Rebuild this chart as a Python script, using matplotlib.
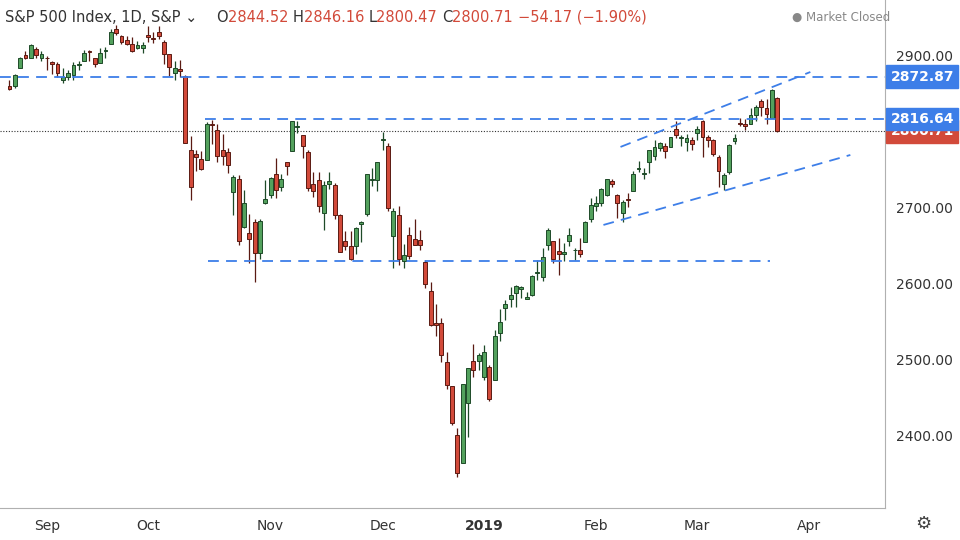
import matplotlib.pyplot as plt
import pandas as pd
import numpy as np

# S&P 500 daily, Aug 23 2018 .. Mar 22 2019
holidays = ['2018-09-03', '2018-11-22', '2018-12-05', '2018-12-25', '2019-01-01',
            '2019-01-21', '2019-02-18']
dates = pd.bdate_range('2018-08-23', '2019-03-22')
dates = dates[~dates.isin(pd.to_datetime(holidays))]

opens = [2860,2860,2884,2901,2898,2909,2898,
         2898,2892,2889,2868,2872,2875,2888,2894,2906,2897,2891,2906,2916,2936,2926,2921,2916,2911,2911,
         2927,2924,2932,2919,2902,2877,2883,2874,2776,2771,2764,2763,2810,2802,2776,2774,2721,2738,2675,2667,2682,2641,2706,
         2717,2745,2727,2760,2775,2807,2796,2774,2731,2737,2693,2731,2730,2691,2657,2650,2650,2679,2692,2737,2737,
         2790,2782,2663,2691,2630,2665,2659,2658,2629,2591,2549,2548,2497,2466,2401,2364,2443,2498,2499,
         2477,2491,2474,2535,2568,2580,2588,2593,2580,2585,2614,2609,2651,2657,2643,2639,2657,2644,2644,2655,2685,
         2702,2706,2717,2736,2717,2693,2712,2722,2751,2744,2760,2769,2779,2781,2780,2804,2792,2787,2789,
         2798,2814,2794,2790,2767,2731,2747,2788,2812,2810,2810,2822,2841,2832,2819,2844.52]
highs = [2868,2876,2899,2907,2916,2912,2906,
         2900,2894,2892,2884,2882,2892,2894,2908,2908,2898,2911,2912,2935,2941,2927,2926,2925,2920,2918,
         2940,2931,2940,2921,2903,2894,2895,2875,2795,2776,2775,2813,2816,2810,2797,2779,2743,2743,2723,2692,2686,2686,2737,
         2741,2766,2744,2757,2815,2815,2796,2776,2747,2747,2736,2747,2733,2692,2670,2670,2675,2683,2744,2753,2761,
         2800,2786,2700,2702,2653,2675,2686,2671,2631,2602,2574,2555,2510,2461,2410,2468,2489,2521,2509,
         2520,2493,2539,2567,2579,2596,2598,2597,2589,2612,2632,2647,2674,2657,2660,2654,2673,2647,2660,2683,2713,
         2716,2726,2738,2738,2718,2711,2720,2748,2762,2753,2776,2789,2787,2786,2793,2814,2796,2797,2793,
         2808,2816,2796,2791,2770,2746,2784,2797,2819,2817,2831,2836,2844,2844,2857,2846.16]
lows = [2855,2858,2884,2896,2898,2898,2894,
        2882,2876,2873,2865,2868,2869,2881,2894,2894,2885,2891,2898,2916,2928,2916,2915,2905,2909,2904,
        2918,2917,2922,2890,2874,2869,2872,2785,2710,2749,2750,2763,2784,2760,2756,2746,2691,2651,2674,2628,2603,2633,2705,
        2713,2713,2722,2743,2775,2799,2766,2722,2714,2695,2671,2725,2685,2642,2644,2631,2640,2655,2690,2729,2722,
        2776,2696,2621,2625,2621,2633,2652,2644,2594,2545,2531,2497,2461,2414,2346,2397,2398,2477,2487,
        2474,2446,2474,2525,2552,2569,2569,2582,2580,2584,2605,2604,2645,2627,2612,2630,2650,2632,2636,2655,2681,
        2696,2702,2716,2727,2687,2682,2701,2722,2747,2738,2746,2763,2775,2766,2780,2792,2781,2775,2776,
        2789,2767,2780,2768,2728,2723,2745,2784,2808,2803,2810,2815,2821,2810,2818,2800.47]
closes = [2857,2875,2897,2898,2914,2901,2902,
          2897,2889,2878,2872,2877,2888,2889,2904,2905,2889,2904,2908,2931,2930,2919,2916,2906,2914,2914,
          2925,2923,2926,2902,2886,2884,2880,2786,2728,2767,2751,2810,2809,2769,2768,2756,2741,2656,2706,2659,2641,2683,2712,
          2740,2723,2738,2755,2814,2807,2781,2726,2722,2702,2730,2736,2691,2642,2650,2633,2673,2682,2744,2738,2760,
          2790,2700,2696,2633,2638,2637,2651,2651,2600,2546,2546,2507,2467,2417,2351,2468,2489,2486,2507,
          2510,2448,2532,2550,2574,2585,2597,2596,2583,2610,2616,2636,2671,2633,2639,2642,2665,2644,2640,2681,2704,
          2707,2725,2738,2732,2706,2708,2710,2745,2753,2746,2776,2780,2785,2775,2793,2796,2794,2792,2784,
          2804,2793,2790,2771,2749,2743,2783,2792,2811,2808,2822,2833,2833,2824,2855,2800.71]

month_labels = ['Sep', 'Oct', 'Nov', 'Dec', '2019', 'Feb', 'Mar', 'Apr']
month_starts = ['2018-09-04', '2018-10-01', '2018-11-01', '2018-12-03', '2019-01-02',
                '2019-02-01', '2019-03-01', '2019-04-01']
price_ticks = [2400, 2500, 2600, 2700, 2800, 2900]
level_hi = 2872.87
level_mid = 2816.64
level_lo = 2630.0
last_close = 2800.71

df = pd.DataFrame({'o': opens, 'h': highs, 'l': lows, 'c': closes}, index=dates)
x = np.arange(len(df))
pos = {d: i for i, d in enumerate(df.index)}
tick_x = [pos.get(pd.Timestamp(d), len(df) + 5) for d in month_starts]

up_col, dn_col = '#53a15d', '#d24a3a'
up_edge, dn_edge = '#1e4a28', '#5a1a12'
blue = '#3d7ee8'
red = '#d24a3a'

fig = plt.figure(figsize=(9.6, 5.4), dpi=100)
ax = fig.add_axes([0, 32 / 540, 885 / 960, 508 / 540])

up = df['c'] >= df['o']
for mask, fc, ec in [(up, up_col, up_edge), (~up, dn_col, dn_edge)]:
    xs = x[mask.values]
    sub = df[mask]
    ax.vlines(xs, sub['l'], sub['h'], color=ec, lw=0.9, zorder=2)
    bot = np.minimum(sub['o'], sub['c'])
    hgt = np.maximum((sub['c'] - sub['o']).abs(), 0.8)
    ax.bar(xs, hgt, bottom=bot, width=0.7, color=fc, edgecolor=ec, lw=0.7, zorder=3)

# support / resistance
dash = (0, (6, 4))
ax.axhline(level_hi, color=blue, ls=dash, lw=1.3, zorder=4)
ax.hlines(level_mid, 36.7, 170, color=blue, ls=dash, lw=1.3, zorder=4)
ax.hlines(level_lo, 37.3, 142.7, color=blue, ls=dash, lw=1.3, zorder=4)
ax.plot([114.6, 150.2], [2780.3, 2878.9], color=blue, ls=dash, lw=1.3, zorder=4)
ax.plot([111.4, 157.7], [2677.6, 2769.7], color=blue, ls=dash, lw=1.3, zorder=4)
ax.axhline(last_close, color='#333333', ls=(0, (1, 1.5)), lw=0.8, zorder=1)

ax.set_xlim(-1.76, 164.2)
ax.set_ylim(2305, 2973.7)
ax.yaxis.tick_right()
ax.set_yticks(price_ticks)
ax.set_yticklabels([f'{p:.2f}' for p in price_ticks])
ax.set_xticks(tick_x)
ax.set_xticklabels(month_labels)
ax.get_xticklabels()[4].set_fontweight('bold')
ax.tick_params(axis='both', length=0, labelsize=10, colors='#333333', pad=8)
ax.tick_params(axis='y', pad=8)
for s in ['top', 'left']:
    ax.spines[s].set_visible(False)
ax.spines['right'].set_color('#b0b0b0')
ax.spines['bottom'].set_color('#b0b0b0')

# right-side price labels (last close drawn first, partly hidden like the original)
for val, col in [(last_close, red), (level_mid, blue), (level_hi, blue)]:
    ax.annotate(f'{val:.2f}', xy=(1.0, val), xycoords=('axes fraction', 'data'),
                xytext=(4, 0), textcoords='offset points', va='center', ha='left',
                color='white', fontsize=10, fontweight='bold',
                bbox=dict(boxstyle='square,pad=0.3', fc=col, ec=col), zorder=10,
                annotation_clip=False)

# header line, pieces placed one after another
pieces = [('S&P 500 Index, 1D, S&P \u2304    ', '#333333'),
          ('O', '#333333'), ('2844.52 ', red), ('H', '#333333'), ('2846.16 ', red),
          ('L', '#333333'), ('2800.47 ', red), ('C', '#333333'), ('2800.71 ', red),
          ('\u221254.17 (\u22121.90%)', red)]
fig.canvas.draw()
renderer = fig.canvas.get_renderer()
xp = 5
for txt, col in pieces:
    t = fig.text(xp / 960, 0.968, txt, fontsize=10.5, color=col, va='center')
    xp = t.get_window_extent(renderer).x1
fig.text(0.825, 0.968, '\u25cf Market Closed', fontsize=8.5, color='#888888', va='center')
fig.text(0.962, 0.03, '\u2699', fontsize=13, color='#444444', ha='center', va='center')

fig.savefig('out.png', dpi=100)
